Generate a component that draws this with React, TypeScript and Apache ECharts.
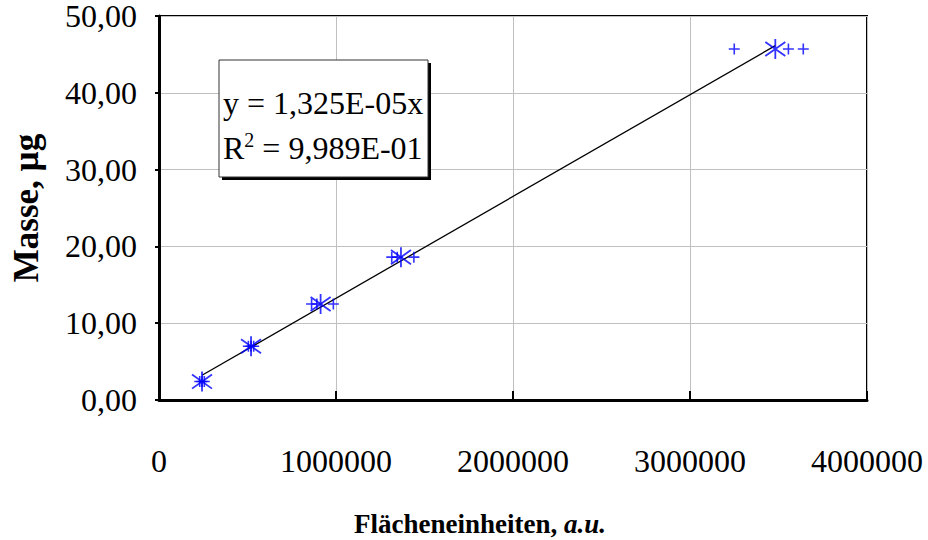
import React, { useEffect, useRef } from "react";
import * as echarts from "echarts";

// Replicate measurements (plus markers)
const replicateX = [230000, 243000, 256000, 505000, 520000, 535000, 862000, 892000, 985000, 1315000, 1346000, 1440000, 3250000, 3556000, 3640000];
const replicateY = [2.4, 2.4, 2.4, 7.0, 7.0, 7.0, 12.5, 12.5, 12.5, 18.6, 18.6, 18.6, 45.7, 45.7, 45.7];
// Mean values (star markers)
const meanX = [243000, 520000, 913000, 1367000, 3482000];
const meanY = [2.4, 7.0, 12.5, 18.6, 45.7];
// Trend line y = slope * x
const slope = 1.325e-5;
const trendRange = [243000, 3482000];
const equationText = "y = 1,325E-05x";
const r2Text = " = 9,989E-01";

const FONT = "'Liberation Serif', 'Times New Roman', serif";
const BLUE = "#0000FF";

const starPath = "path://M10,0L10,20M2.93,2.93L17.07,17.07M2.93,17.07L17.07,2.93";
const plusPath = "path://M10,0L10,20M0,10L20,10";

export default function App() {
  const ref = useRef<HTMLDivElement>(null);
  useEffect(() => {
    if (!ref.current) return;
    const chart = echarts.init(ref.current, null, { renderer: "svg" });
    const fmt = (v: number) => v.toFixed(2).replace(".", ",");
    chart.setOption({
      animation: false,
      backgroundColor: "#ffffff",
      textStyle: { fontFamily: FONT },
      grid: {
        left: 159,
        right: 61,
        top: 16,
        bottom: 140,
        show: true,
        borderColor: "#000",
        borderWidth: 2,
        backgroundColor: "transparent",
        outerBoundsMode: "none",
        containLabel: false,
      },
      xAxis: {
        type: "value",
        min: 0,
        max: 4000000,
        interval: 1000000,
        name: "Flächeneinheiten, {i|a.u.}",
        nameLocation: "middle",
        nameGap: 110,
        nameTextStyle: {
          fontFamily: FONT,
          fontSize: 27,
          fontWeight: "bold",
          color: "#000",
          padding: [0, 66, 0, 0],
          rich: { i: { fontFamily: FONT, fontSize: 27, fontWeight: "bold", fontStyle: "italic", color: "#000" } },
        },
        axisLine: { show: true, lineStyle: { color: "#000", width: 3 } },
        axisTick: { show: true, inside: true, length: 9, lineStyle: { color: "#000", width: 2 } },
        axisLabel: { fontFamily: FONT, fontSize: 32, lineHeight: 28, color: "#000", margin: 47, formatter: (v: number) => String(v) },
        splitLine: { show: true, lineStyle: { color: "#c0c0c0", width: 1 } },
      },
      yAxis: {
        type: "value",
        min: 0,
        max: 50,
        interval: 10,
        name: "Masse, µg",
        nameLocation: "middle",
        nameGap: 115,
        nameTextStyle: { fontFamily: FONT, fontSize: 35, fontWeight: "bold", color: "#000" },
        axisLine: { show: true, lineStyle: { color: "#000", width: 3 } },
        axisTick: { show: true, inside: false, length: 4, lineStyle: { color: "#000", width: 2 } },
        axisLabel: { fontFamily: FONT, fontSize: 32, lineHeight: 28, color: "#000", margin: 22, formatter: fmt },
        splitLine: { show: true, lineStyle: { color: "#c0c0c0", width: 1 } },
      },
      series: [
        {
          type: "line",
          data: trendRange.map((x) => [x, slope * x]),
          symbol: "none",
          lineStyle: { color: "#000", width: 1.3 },
          z: 2,
        },
        {
          type: "scatter",
          data: replicateX.map((x, i) => [x, replicateY[i]]),
          symbol: plusPath,
          symbolSize: 11,
          itemStyle: { color: "none", borderColor: BLUE, borderWidth: 1.6 },
          z: 3,
        },
        {
          type: "scatter",
          data: meanX.map((x, i) => [x, meanY[i]]),
          symbol: starPath,
          symbolSize: 20,
          itemStyle: { color: "none", borderColor: BLUE, borderWidth: 1.8 },
          z: 4,
        },
      ],
      graphic: [
        { type: "rect", shape: { x: 222, y: 63, width: 209, height: 117 }, style: { fill: "#000" }, z: 10 },
        { type: "rect", shape: { x: 219, y: 60, width: 209, height: 117 }, style: { fill: "#fff", stroke: "#333", lineWidth: 1 }, z: 11 },
        {
          type: "text",
          x: 223,
          y: 103,
          style: { text: equationText, fontFamily: FONT, fontSize: 32, fill: "#000", verticalAlign: "middle", align: "left" },
          z: 12,
        },
        {
          type: "text",
          x: 223,
          y: 148,
          style: {
            text: "R{sup|2}" + r2Text,
            fontFamily: FONT,
            fontSize: 32,
            fill: "#000",
            verticalAlign: "middle",
            align: "left",
            rich: {
              sup: { fontFamily: FONT, fontSize: 20, verticalAlign: "top", lineHeight: 36, padding: [0, 0, 14, 0] },
            },
          },
          z: 12,
        },
      ],
    });
    return () => chart.dispose();
  }, []);
  return <div ref={ref} style={{ position: "absolute", left: 0, top: 0, width: 928, height: 540 }} />;
}
